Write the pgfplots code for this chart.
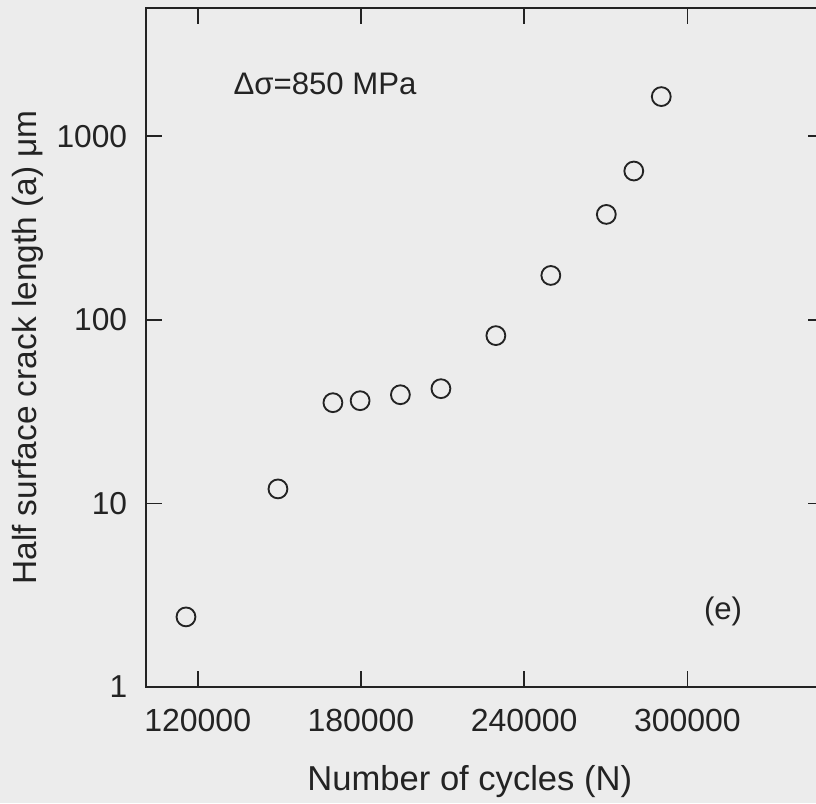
\documentclass[border=0pt]{standalone}
\usepackage{fontspec}
\setmainfont{Liberation Sans}
\usepackage{pgfplots}
\pgfplotsset{compat=1.18}
\definecolor{paper}{RGB}{236,236,236}
\definecolor{ink}{RGB}{35,35,35}

\begin{document}
\fontsize{10.9}{13}\selectfont
\begin{tikzpicture}
% grey page behind the plot (0.35pt per reference pixel)
\fill[paper] (-51.1pt,-40.6pt) rectangle (234.5pt,240.45pt);
\begin{axis}[
    scale only axis,
    width=237.1pt, height=237.65pt,
    xmin=101000, xmax=350000,
    ymode=log, ymin=1, ymax=5000,
    xtick={120000,180000,240000,300000},
    ytick={1,10,100,1000},
    yminorticks=false,
    log ticks with fixed point,
    scaled x ticks=false,
    /pgf/number format/1000 sep={},
    /pgf/number format/assume math mode=true,
    xticklabel style={/pgf/number format/fixed, inner sep=0pt, anchor=north, yshift=-7.6pt, font=\fontsize{11.2}{13}\selectfont},
    yticklabel style={inner sep=0pt, anchor=east, xshift=-6.4pt, font=\fontsize{11.1}{13}\selectfont},
    tick align=inside,
    major tick length=5.5pt,
    axis line style={ink, line width=0.65pt},
    tick style={ink, line width=0.6pt},
    ticklabel style={text=ink},
    xlabel={Number of cycles (N)},
    ylabel={Half surface crack length (a) μm},
    xlabel style={at={(axis description cs:0.478,-0.139)}, anchor=center, text=ink, font=\fontsize{12.1}{14}\selectfont},
    ylabel style={at={(axis description cs:-0.174,0.5)}, anchor=center, rotate=0, text=ink, font=\fontsize{11.7}{14}\selectfont},
]
\addplot[only marks, mark=o, mark size=3.3pt, ink, line width=0.65pt] coordinates {
    (115700,2.41)
    (149500,12.0)
    (169700,35.4)
    (179700,36.3)
    (194500,39.1)
    (209400,42.2)
    (229600,82.1)
    (249800,174.6)
    (270200,375.5)
    (280300,647)
    (290400,1646)
};
\node[anchor=west, inner sep=0pt, text=ink] at (axis cs:132980,1921) {Δσ=850 MPa};
\node[anchor=center, inner sep=0pt, text=ink] at (axis cs:313100,2.57) {(e)};
\end{axis}
\pgfresetboundingbox
\path[use as bounding box] (-51.1pt,-40.6pt) rectangle (234.5pt,240.45pt);
\end{tikzpicture}
\end{document}
